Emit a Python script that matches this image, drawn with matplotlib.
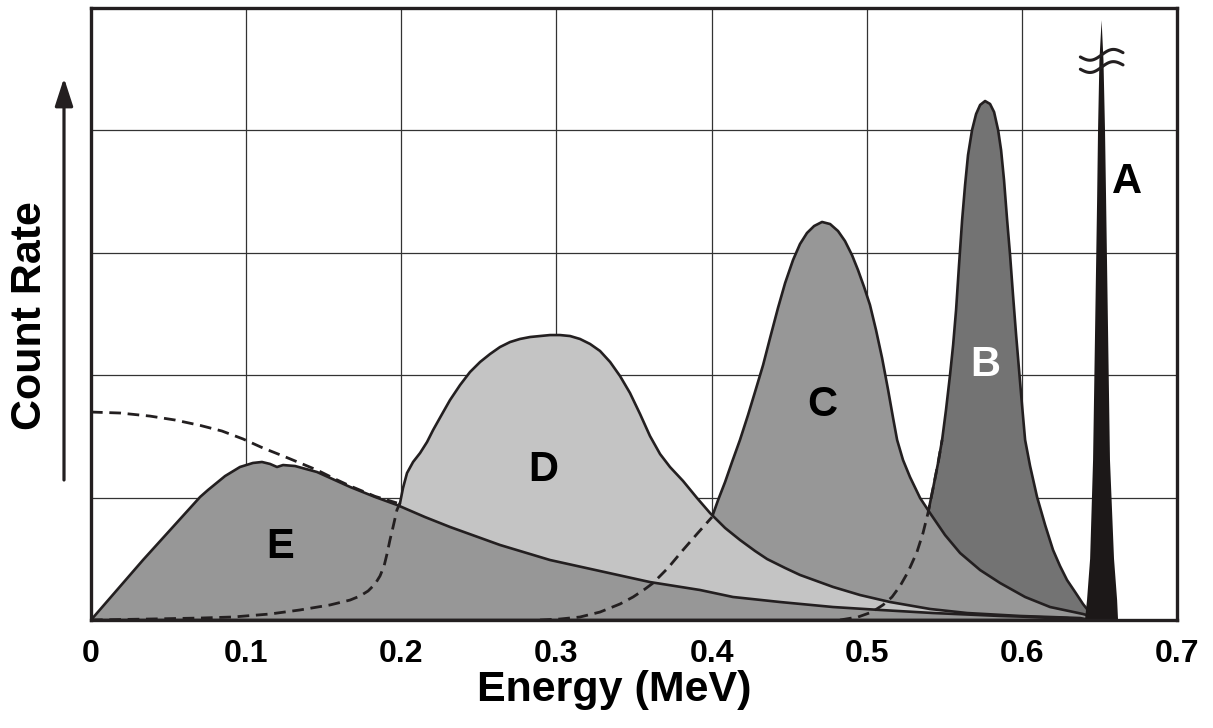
import numpy as np
import matplotlib
matplotlib.use("Agg")
import matplotlib.pyplot as plt

plt.rcParams['font.family'] = ['Liberation Sans', 'DejaVu Sans']

# ---------------- data (energy in MeV, count rate in grid units) ----------------
tick_values = [0, 0.1, 0.2, 0.3, 0.4, 0.5, 0.6, 0.7]
tick_labels = ['0', '0.1', '0.2', '0.3', '0.4', '0.5', '0.6', '0.7']

e_x = [0, 0.0335, 0.0703, 0.0754, 0.0864, 0.096, 0.1044, 0.1102, 0.1154, 0.1199,
       0.1238, 0.1315, 0.1457, 0.167, 0.1831, 0.1972, 0.2153, 0.2314, 0.2636,
       0.2959, 0.3281, 0.3603, 0.3926, 0.4138, 0.4441, 0.4783, 0.5086, 0.5428,
       0.586, 0.6291, 0.6407]
e_y = [0, 0.49, 1.005, 1.062, 1.176, 1.25, 1.283, 1.291, 1.275, 1.25,
       1.266, 1.258, 1.209, 1.087, 1.005, 0.94, 0.841, 0.76, 0.613,
       0.49, 0.40, 0.31, 0.245, 0.188, 0.147, 0.106, 0.082, 0.057,
       0.033, 0.016, 0]

upper_x = [0, 0.0187, 0.038, 0.0541, 0.0703, 0.0844, 0.098, 0.1109, 0.1238,
           0.1347, 0.1457, 0.1573, 0.167, 0.1831, 0.1972]
upper_y = [1.699, 1.691, 1.666, 1.634, 1.59, 1.544, 1.479, 1.405, 1.34,
           1.283, 1.225, 1.152, 1.095, 1.01, 0.956]

d_x = [0, 0.038, 0.0703, 0.0915, 0.1154, 0.1347, 0.1541, 0.167, 0.1734, 0.1786,
       0.1831, 0.1863, 0.1889, 0.1908, 0.1927, 0.1947, 0.1972, 0.1992,
       0.2011, 0.2037, 0.2076, 0.2121, 0.2166, 0.2205, 0.2263, 0.2314, 0.2379,
       0.2443, 0.2508, 0.2572, 0.2636, 0.2701, 0.2765, 0.283, 0.2894, 0.2959,
       0.3023, 0.3088, 0.3152, 0.3217, 0.3281, 0.3346, 0.341, 0.3474, 0.3539,
       0.3603, 0.3668, 0.3732, 0.3816, 0.3906, 0.399, 0.4087, 0.4183, 0.428,
       0.4358, 0.4474, 0.457, 0.4783, 0.4957, 0.515, 0.5408, 0.5647, 0.5988,
       0.6375, 0.644]
d_y = [0, 0.008, 0.016, 0.0245, 0.049, 0.082, 0.123, 0.163, 0.196, 0.237,
       0.294, 0.36, 0.441, 0.54, 0.654, 0.76, 0.899, 0.956,
       1.078, 1.201, 1.291, 1.364, 1.454, 1.552, 1.683, 1.797, 1.920,
       2.026, 2.108, 2.173, 2.230, 2.271, 2.296, 2.312, 2.320, 2.328,
       2.328, 2.320, 2.296, 2.255, 2.198, 2.108, 1.993, 1.855, 1.683,
       1.503, 1.356, 1.25, 1.136, 0.997, 0.874, 0.752, 0.654, 0.564,
       0.498, 0.425, 0.368, 0.27, 0.204, 0.147, 0.09, 0.057, 0.033,
       0.016, 0]
d_hidden = 17   # first points of D hidden behind E (drawn dashed)

c_x = [0.2894, 0.3023, 0.3152, 0.3281, 0.341, 0.3494, 0.3571, 0.3623, 0.3719,
       0.3816, 0.3906, 0.4003, 0.4042, 0.4087, 0.4132, 0.4183, 0.4235, 0.428,
       0.4332, 0.4377, 0.4428, 0.4474, 0.4525, 0.457, 0.4615, 0.4661, 0.4712,
       0.4764, 0.4815, 0.486, 0.4905, 0.4944, 0.4983, 0.5021, 0.506, 0.5099,
       0.5138, 0.517, 0.5196, 0.5234, 0.5279, 0.5344, 0.5408, 0.5505, 0.5602,
       0.5731, 0.586, 0.6021, 0.6182, 0.6394, 0.6485, 0.6504]
c_y = [0, 0.008, 0.0245, 0.065, 0.131, 0.188, 0.253, 0.302, 0.425,
       0.572, 0.703, 0.841, 0.98, 1.127, 1.291, 1.471, 1.675, 1.863,
       2.083, 2.304, 2.549, 2.753, 2.941, 3.072, 3.162, 3.219, 3.252,
       3.235, 3.178, 3.096, 2.982, 2.859, 2.721, 2.574, 2.369, 2.141,
       1.879, 1.65, 1.471, 1.307, 1.168, 0.997, 0.874, 0.694, 0.547,
       0.408, 0.302, 0.188, 0.106, 0.049, 0.016, 0]
c_hidden = 11

b_x = [0.4828, 0.4944, 0.5034, 0.5105, 0.5163, 0.5215, 0.5266, 0.5324, 0.5363,
       0.5395, 0.5428, 0.546, 0.5486, 0.5511, 0.5537, 0.5557, 0.5576, 0.5595,
       0.5615, 0.5634, 0.5653, 0.5679, 0.5705, 0.5731, 0.5763, 0.5795, 0.5821,
       0.5847, 0.5866, 0.5885, 0.5905, 0.5924, 0.5943, 0.5963, 0.5982, 0.6001,
       0.6021, 0.6053, 0.6098, 0.615, 0.6201, 0.6246, 0.6291, 0.6343, 0.6394,
       0.644, 0.6485, 0.6523]
b_y = [0, 0.0245, 0.065, 0.123, 0.188, 0.278, 0.392, 0.556, 0.711,
       0.874, 1.078, 1.283, 1.471, 1.716, 2.002, 2.247, 2.533, 2.900,
       3.268, 3.554, 3.799, 4.003, 4.134, 4.208, 4.240, 4.216, 4.150,
       4.003, 3.840, 3.595, 3.268, 2.982, 2.655, 2.328, 2.042, 1.757,
       1.471, 1.258, 1.005, 0.776, 0.572, 0.441, 0.327, 0.229, 0.131,
       0.057, 0.016, 0]
b_hidden = 12

a_x = [0.6407, 0.642, 0.644, 0.6459, 0.6485, 0.6491, 0.650, 0.6514, 0.6526,
       0.6536, 0.6543, 0.6568, 0.6594, 0.6614, 0.662]
a_y = [0, 0.163, 0.5, 1.307, 3.43, 4.0, 4.575, 4.9, 4.575,
       4.0, 3.43, 1.307, 0.5, 0.163, 0]

labels = ['A', 'B', 'C', 'D', 'E']
label_x = [0.6678, 0.5763, 0.4712, 0.2914, 0.1218]
label_y = [3.578, 2.083, 1.757, 1.225, 0.596]
label_colors = ['black', 'white', 'black', 'black', 'black']

# ---------------- figure ----------------
W, H = 1213, 728
fig = plt.figure(figsize=(W / 100, H / 100), dpi=100)
ax = fig.add_axes([91 / W, (H - 620) / H, (1177 - 91) / W, (620 - 8) / H])
ax.set_xlim(0, 0.7)
ax.set_ylim(0, 5)

edge = '#231f20'
lw = 1.9

# grid
for gx in tick_values[1:-1]:
    ax.axvline(gx, color='#333333', lw=0.9, zorder=0.5)
for gy in [1, 2, 3, 4]:
    ax.axhline(gy, color='#333333', lw=0.9, zorder=0.5)

def shape(x, y, color, z):
    ax.fill(x, y, facecolor=color, edgecolor=edge, lw=lw, zorder=z, joinstyle='round')

shape(b_x, b_y, '#737373', 2)
shape(c_x, c_y, '#979797', 3)
shape(d_x, d_y, '#c4c4c4', 4)
shape(e_x, e_y, '#979797', 5)

dash = dict(color=edge, lw=2.0, ls=(0, (4.2, 2.4)), zorder=6)
ax.plot(d_x[:d_hidden + 1], d_y[:d_hidden + 1], **dash)
ax.plot(c_x[:c_hidden + 1], c_y[:c_hidden + 1], **dash)
ax.plot(b_x[:b_hidden + 1], b_y[:b_hidden + 1], **dash)
ax.plot(upper_x, upper_y, **dash)

ax.fill(a_x, a_y, facecolor='#1c1818', edgecolor='none', zorder=7)

# axis-break symbol on peak A
t = np.linspace(0, 1, 60)
bx = 0.6377 + 0.0275 * t
for base in (4.60, 4.50):
    by = base + 0.035 * t - 0.035 * np.sin(2 * np.pi * t)
    ax.plot(bx, by, color=edge, lw=2.2, zorder=8, solid_capstyle='round')

for s, lx, ly, c in zip(labels, label_x, label_y, label_colors):
    ax.text(lx, ly, s, color=c, fontsize=30, fontweight='bold',
            ha='center', va='center', zorder=9)

for sp in ax.spines.values():
    sp.set_linewidth(2.4)
    sp.set_color(edge)
    sp.set_zorder(10)

ax.set_yticks([])
ax.set_xticks(tick_values)
ax.set_xticklabels(tick_labels, fontsize=23, fontweight='bold')
ax.tick_params(axis='x', length=0, pad=14)

fig.text(614 / W, 1 - 690 / H, 'Energy (MeV)', fontsize=31, fontweight='bold',
         ha='center', va='center')
fig.text(30 / W, 1 - 316 / H, 'Count Rate', fontsize=31, fontweight='bold',
         ha='center', va='center', rotation=90)
ax.annotate('', xy=(64 / W, 1 - 78 / H), xytext=(64 / W, 1 - 480 / H),
            xycoords='figure fraction', textcoords='figure fraction',
            arrowprops=dict(arrowstyle='-|>,head_length=1.7,head_width=0.55',
                            lw=2.3, color=edge, shrinkA=0, shrinkB=0))

fig.savefig('out.png', dpi=100)
